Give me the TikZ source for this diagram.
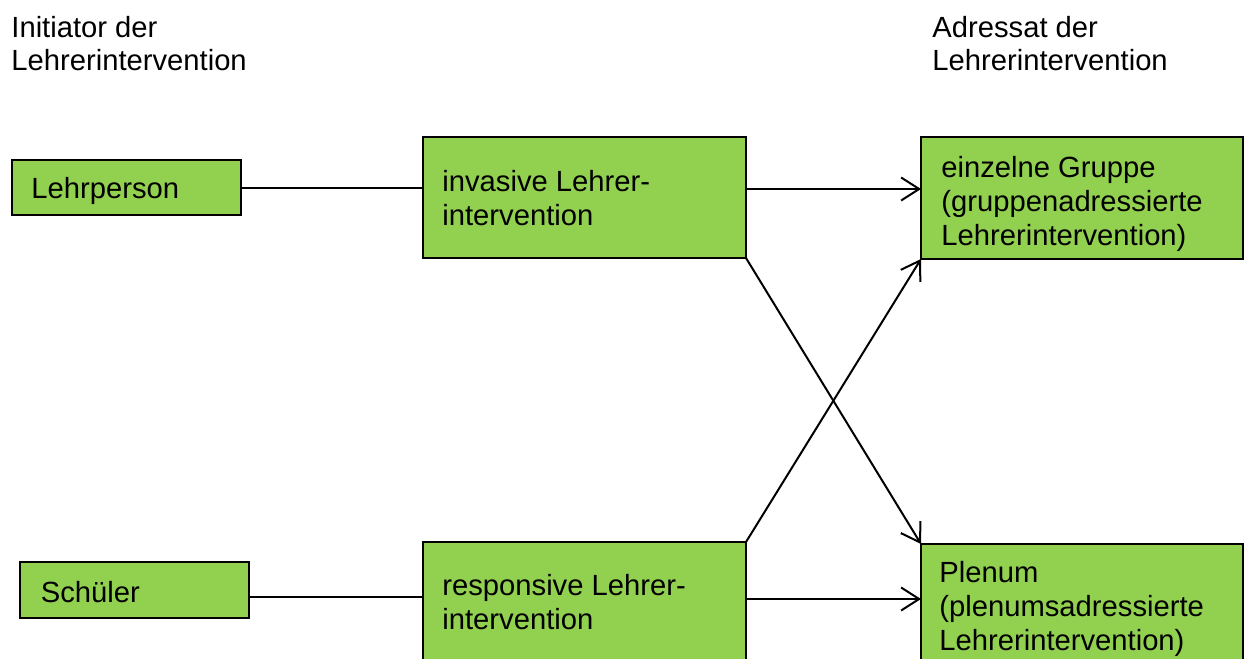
\documentclass[tikz,border=0pt]{standalone}
\usepackage{fontspec}
\setmainfont{Liberation Sans}
\usetikzlibrary{arrows.meta}
\definecolor{boxgreen}{HTML}{92D050}
\begin{document}
\begin{tikzpicture}[x=0.5pt,y=-0.5pt,
  box/.style={draw=black, line width=1pt, fill=boxgreen, anchor=north west, inner sep=0pt, outer sep=0pt},
  txt/.style={anchor=north west, inner sep=0pt, align=left, font=\fontsize{14.6pt}{17pt}\selectfont},
  head/.style={txt, font=\fontsize{14.6pt}{16.6pt}\selectfont},
  conn/.style={line width=1pt, draw=black},
  arr/.style={conn, -{Straight Barb[length=9pt,width=11.5pt,line width=1pt]}}]
\useasboundingbox[fill=white] (0,0) rectangle (1244,659);
% headers
\node[head] (h1) at (11,16) {Initiator der\\Lehrerintervention};
\node[head] (h2) at (932,16) {Adressat der\\Lehrerintervention};
% boxes
\node[box, minimum width=114.5pt, minimum height=27.5pt] (lehr) at (12,160) {};
\node[box, minimum width=161.5pt, minimum height=60.5pt] (inv) at (423,137) {};
\node[box, minimum width=161pt, minimum height=61pt] (einz) at (921,137) {};
\node[box, minimum width=114.5pt, minimum height=28pt] (sch) at (20,562) {};
\node[box, minimum width=161.5pt, minimum height=61pt] (resp) at (423,542) {};
\node[box, minimum width=161pt, minimum height=61pt] (plen) at (921,544) {};
% box texts
\node[txt] (lehrT) at (31,177) {Lehrperson};
\node[txt] (invT) at (442,170) {invasive Lehrer-\\intervention};
\node[txt] (einzT) at (941,156) {einzelne Gruppe\\(gruppenadressierte\\Lehrerintervention)};
\node[txt] (schT) at (40.5,581) {Schüler};
\node[txt] (respT) at (442,574) {responsive Lehrer-\\intervention};
\node[txt] (plenT) at (939,561) {Plenum\\(plenumsadressierte\\Lehrerintervention)};
% connectors
\coordinate (c2) at (746,189);
\coordinate (c3) at (249,597);
\coordinate (c4) at (746,599);
\draw[conn] (lehr.east) -- (lehr.east -| inv.west);
\draw[arr] (c2) -- (c2 -| einz.west);
\draw[conn] (sch.east |- c3) -- (c3 -| resp.west);
\draw[arr] (c4) -- (c4 -| plen.west);
\draw[arr] (inv.south east) -- (plen.north west);
\draw[arr] (resp.north east) -- (einz.south west);
\end{tikzpicture}
\end{document}
